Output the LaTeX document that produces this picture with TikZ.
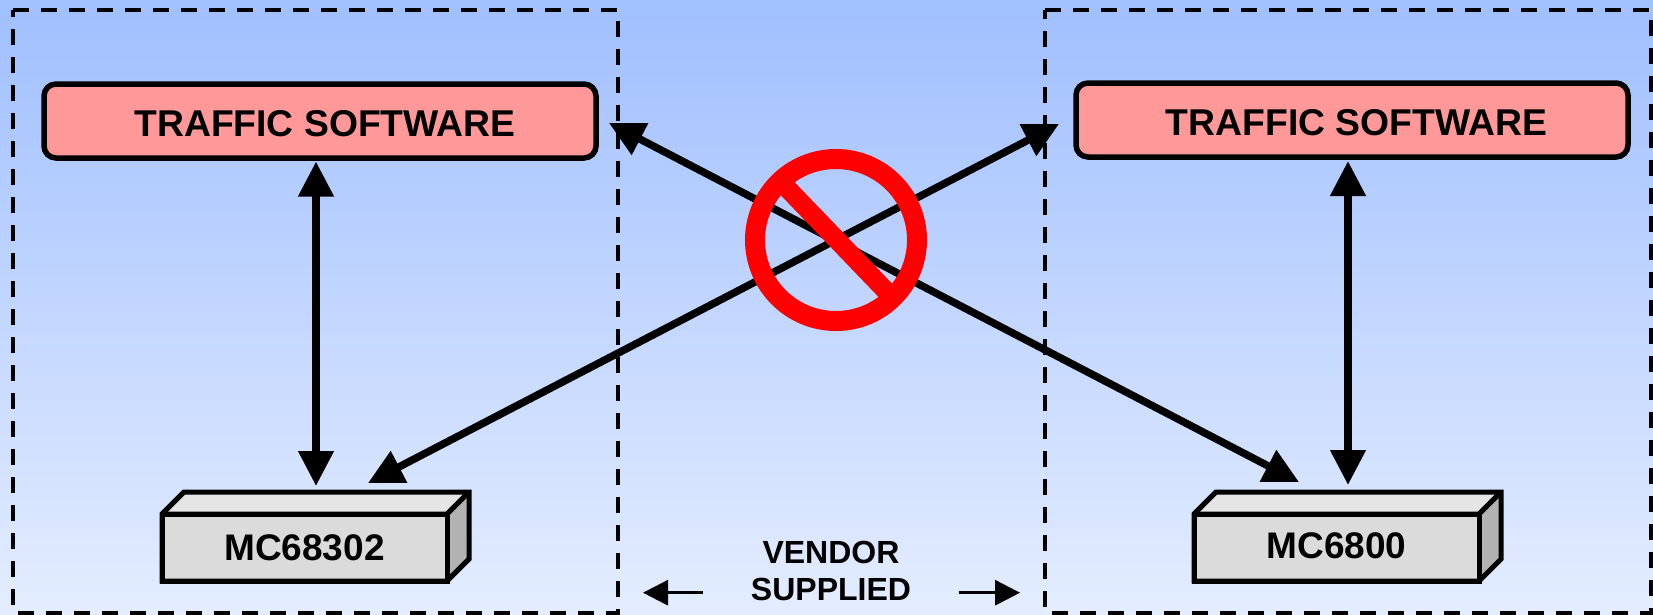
\documentclass[tikz,border=0pt]{standalone}
\usepackage{fontspec}
\setmainfont{Liberation Sans}
\usetikzlibrary{arrows.meta}
\definecolor{bgtop}{HTML}{A0BFFF}
\definecolor{bgbot}{HTML}{E4EDFF}
\definecolor{tsfill}{HTML}{FF9999}
\tikzset{
  x=1pt,y=-1pt,
  vendorbox/.style={draw=black,line width=4pt,dash pattern=on 16pt off 12pt},
  tsbox/.style={draw=black,fill=tsfill,line width=5.5pt,rounded corners=12pt,minimum width=552pt,minimum height=74pt,outer sep=0pt,inner sep=0pt,font=\fontsize{37.3}{37.3}\selectfont\bfseries},
  chipfront/.style={draw=black,fill=black!14,line width=5pt,minimum width=285pt,minimum height=67pt,outer sep=0pt,inner sep=0pt,font=\fontsize{37}{37}\selectfont\bfseries},
  chipedge/.style={draw=black,line width=5pt,line join=miter},
  link/.style={draw=black,line width=7.5pt,{Triangle[length=35pt,width=34pt]}-{Triangle[length=35pt,width=34pt]}},
  hint/.style={draw=black,line width=3pt,-{Triangle[length=25pt,width=25pt]}},
  ban/.style={draw=red,line width=20pt},
  vendorlabel/.style={align=center,inner sep=0pt,font=\fontsize{32}{37}\selectfont\bfseries},
}
\newcommand{\chipbody}[1]{%
  \fill[black!10] (#1.north west) -- ++(22,-22) -- ++(285,0) -- (#1.north east) -- cycle;
  \fill[black!30] (#1.north east) -- ++(22,-22) -- ++(0,67) -- (#1.south east) -- cycle;
  \draw[chipedge] (#1.north west) -- ++(22,-22) -- ++(285,0) -- ++(0,67) -- (#1.south east) -- (#1.south west) -- cycle;
  \draw[chipedge] (#1.north west) -- (#1.north east) -- ++(22,-22);
  \draw[chipedge] (#1.north east) -- (#1.south east);
}
\begin{document}
\begin{tikzpicture}
\useasboundingbox (0,0) rectangle (1653,614);
\shade[top color=bgtop,bottom color=bgbot] (0,0) rectangle (1653,614);

% vendor boxes
\draw[vendorbox] (13,10) -- (618,10) -- (618,612.5) -- (13,612.5) -- cycle;
\draw[vendorbox] (1045,10) -- (1651,10) -- (1651,612.5) -- (1045,612.5) -- cycle;

% traffic software
\node[tsbox] (ts1) at (320,121) {\hspace*{10pt}\raisebox{-15pt}[0pt][0pt]{TRAFFIC SOFTWARE}};
\node[tsbox] (ts2) at (1352,120) {\hspace*{9pt}\raisebox{-15pt}[0pt][0pt]{TRAFFIC SOFTWARE}};

% chips
\node[chipfront] (c1) at (304.5,547.5) {\raisebox{-12.5pt}[0pt][0pt]{MC68302}};
\node[chipfront] (c2) at (1336.5,547.5) {\raisebox{-10.5pt}[0pt][0pt]{MC6800}};
\chipbody{c1}
\chipbody{c2}

% connector ends
\coordinate (up1) at (316,161.5);
\coordinate (dn1) at (316,486);
\coordinate (up2) at (1348,161);
\coordinate (dn2) at (1348,485);
\coordinate (x1a) at (609,123);
\coordinate (x1b) at (1299,482);
\coordinate (x2a) at (1059,124);
\coordinate (x2b) at (368,483);

\path[link] (up1) -- (dn1);
\path[link] (up2) -- (dn2);
\path[link] (x1a) -- (x1b);
\path[link] (x2a) -- (x2b);

% prohibition sign
\coordinate (ring) at (836,240);
\draw[ban] (ring) circle[radius=81];
\draw[ban,line width=19pt] (787,188) -- (887,292);

% vendor supplied
\node[vendorlabel] (vs) at (831,570.5) {VENDOR\\SUPPLIED};
\coordinate (ha) at (703,592.7);
\coordinate (hb) at (643,592.7);
\coordinate (hc) at (959,592.7);
\coordinate (hd) at (1020,592.7);
\path[hint] (ha) -- (hb);
\path[hint] (hc) -- (hd);
\end{tikzpicture}
\end{document}
